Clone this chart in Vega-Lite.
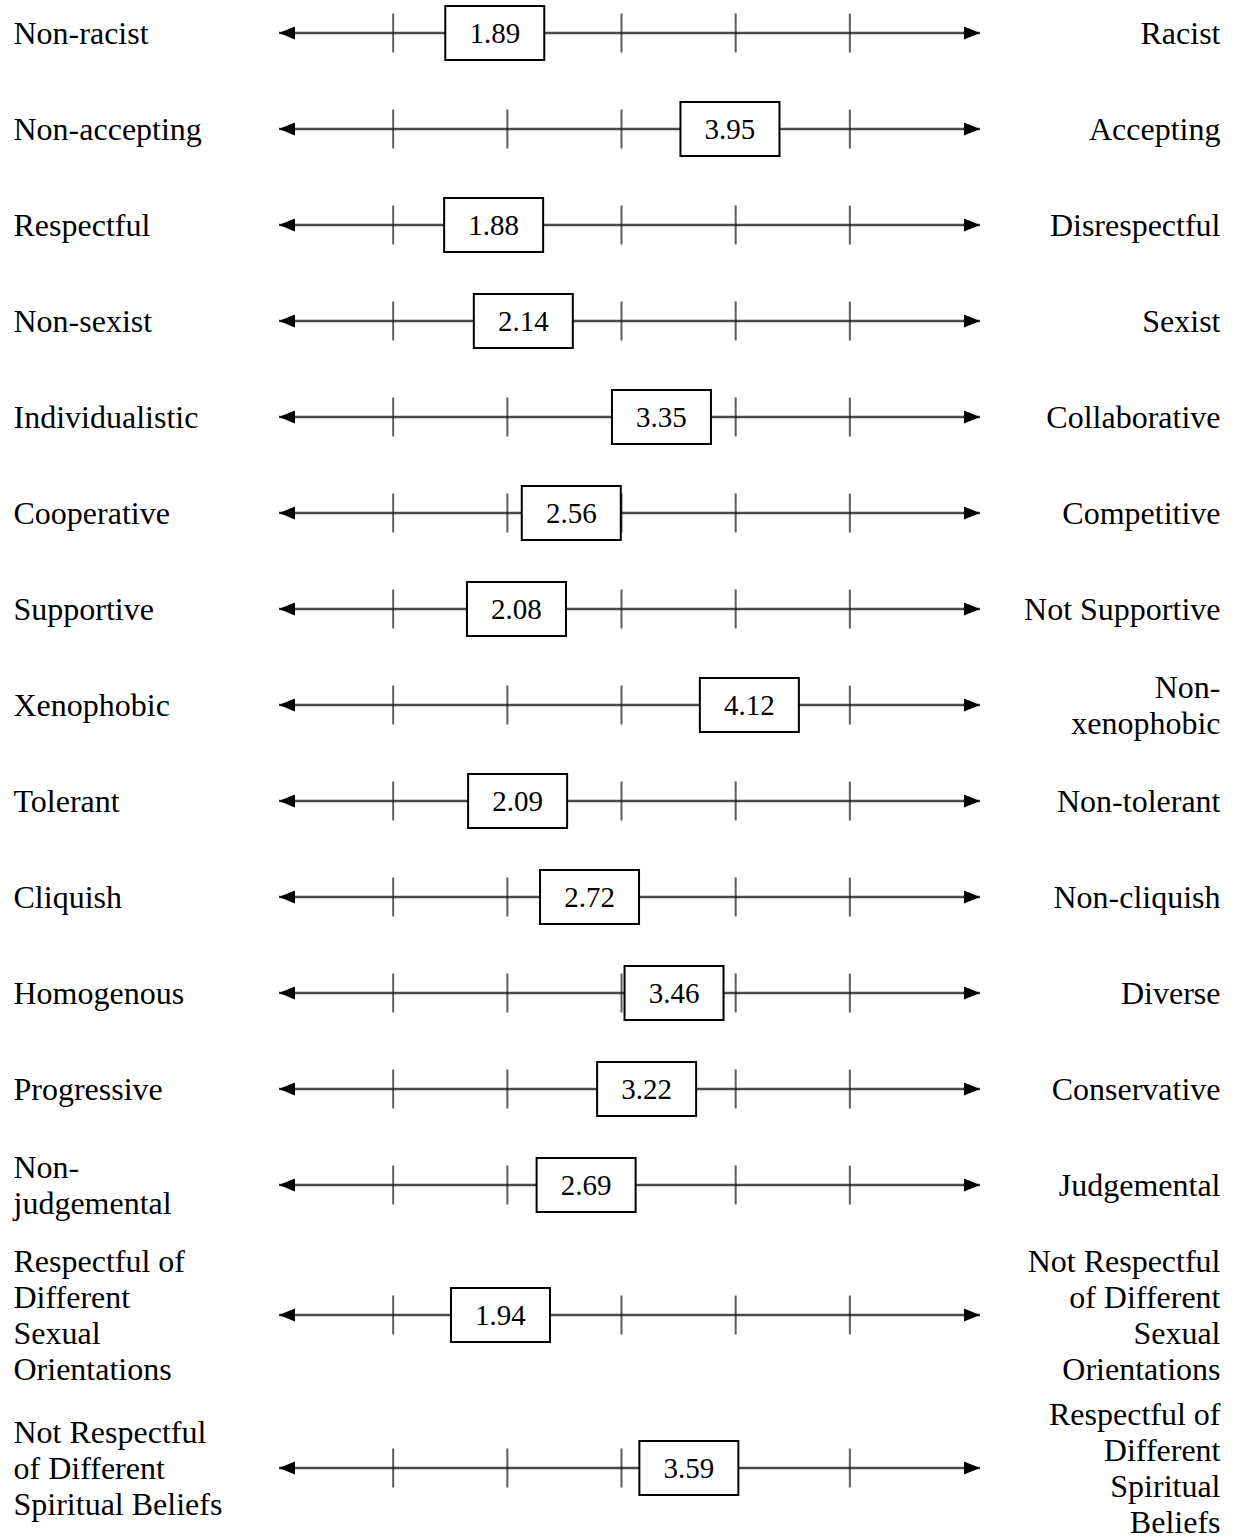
{
  "$schema": "https://vega.github.io/schema/vega-lite/v6.json",
  "background": "white",
  "padding": {"left": 13, "top": 0, "right": 16, "bottom": 0},
  "autosize": {"type": "pad"},
  "config": {"view": {"stroke": null}, "font": "Liberation Serif"},
  "datasets": {
    "main": [
      {"left": "Non-racist", "right": "Racist", "value": 1.89, "ticks": [1, 2, 3, 4, 5]},
      {"left": "Non-accepting", "right": "Accepting", "value": 3.95, "ticks": [1, 2, 3, 4, 5]},
      {"left": "Respectful", "right": "Disrespectful", "value": 1.88, "ticks": [1, 2, 3, 4, 5]},
      {"left": "Non-sexist", "right": "Sexist", "value": 2.14, "ticks": [1, 2, 3, 4, 5]},
      {"left": "Individualistic", "right": "Collaborative", "value": 3.35, "ticks": [1, 2, 3, 4, 5]},
      {"left": "Cooperative", "right": "Competitive", "value": 2.56, "ticks": [1, 2, 3, 4, 5]},
      {"left": "Supportive", "right": "Not Supportive", "value": 2.08, "ticks": [1, 2, 3, 4, 5]},
      {"left": "Xenophobic", "right": "Non-|xenophobic", "value": 4.12, "ticks": [1, 2, 3, 4, 5]},
      {"left": "Tolerant", "right": "Non-tolerant", "value": 2.09, "ticks": [1, 2, 3, 4, 5]},
      {"left": "Cliquish", "right": "Non-cliquish", "value": 2.72, "ticks": [1, 2, 3, 4, 5]},
      {"left": "Homogenous", "right": "Diverse", "value": 3.46, "ticks": [1, 2, 3, 4, 5]},
      {"left": "Progressive", "right": "Conservative", "value": 3.22, "ticks": [1, 2, 3, 4, 5]},
      {"left": "Non-|judgemental", "right": "Judgemental", "value": 2.69, "ticks": [1, 2, 3, 4, 5]}
    ],
    "long": [
      {"left": "Respectful of|Different|Sexual|Orientations", "right": "Not Respectful|of Different|Sexual|Orientations", "value": 1.94, "ticks": [1, 2, 3, 4, 5]},
      {"left": "Not Respectful|of Different|Spiritual Beliefs", "right": "Respectful of|Different|Spiritual|Beliefs", "value": 3.59, "ticks": [1, 2, 3, 4, 5]}
    ]
  },
  "spacing": 0,
  "bounds": "flush",
  "vconcat": [
    {
      "width": 701,
      "height": 1218,
      "data": {"name": "main"},
      "layer": [
        {
          "encoding": {
            "y": {"field": "left", "type": "nominal", "sort": null,
              "scale": {"type": "point", "range": [33, 1185], "padding": 0},
              "axis": {"orient": "left", "title": null, "domain": false, "ticks": false, "tickSize": 0, "labelPadding": 266, "labelAlign": "left", "labelBaseline": "middle", "labelFont": "Liberation Serif", "labelFontSize": 32, "labelColor": "black", "labelLimit": 0, "labelLineHeight": 36, "labelExpr": "split(datum.value, '|')", "labelOffset": {"expr": "-(length(split(datum.value, '|')) - 1) * 18"}}}
          },
          "layer": [
            {"mark": {"type": "rule", "color": "#4a4a4a", "strokeWidth": 2.5},
             "encoding": {"x": {"datum": 0, "type": "quantitative", "scale": {"domain": [0, 6.14], "nice": false, "zero": false}, "axis": null}, "x2": {"datum": 6.14}}},
            {"transform": [{"flatten": ["ticks"]}],
             "mark": {"type": "tick", "color": "#1a1a1a", "thickness": 2, "size": 39},
             "encoding": {"x": {"field": "ticks", "type": "quantitative", "scale": {"domain": [0, 6.14], "nice": false, "zero": false}, "axis": null}}},
            {"mark": {"type": "point", "shape": "M0,0 L1,-0.4 L1,0.4 Z", "size": 1024, "filled": true, "color": "black", "opacity": 1},
             "encoding": {"x": {"datum": 0, "type": "quantitative", "scale": {"domain": [0, 6.14], "nice": false, "zero": false}, "axis": null}}},
            {"mark": {"type": "point", "shape": "M0,0 L-1,-0.4 L-1,0.4 Z", "size": 1024, "filled": true, "color": "black", "opacity": 1},
             "encoding": {"x": {"datum": 6.14, "type": "quantitative", "scale": {"domain": [0, 6.14], "nice": false, "zero": false}, "axis": null}}},
            {"mark": {"type": "point", "shape": "M-1,-0.545 L1,-0.545 L1,0.545 L-1,0.545 Z", "size": 9801, "fill": "white", "fillOpacity": 1, "stroke": "black", "strokeWidth": 2, "opacity": 1},
             "encoding": {"x": {"field": "value", "type": "quantitative", "scale": {"domain": [0, 6.14], "nice": false, "zero": false}, "axis": null}}},
            {"mark": {"type": "text", "font": "Liberation Serif", "fontSize": 29, "color": "black", "align": "center", "baseline": "middle", "dy": 1},
             "encoding": {"x": {"field": "value", "type": "quantitative", "scale": {"domain": [0, 6.14], "nice": false, "zero": false}, "axis": null}, "text": {"field": "value", "type": "quantitative", "format": ".2f"}}}
          ]
        },
        {
          "mark": {"type": "point", "opacity": 0},
          "encoding": {
            "x": {"datum": 0, "type": "quantitative", "scale": {"domain": [0, 6.14], "nice": false, "zero": false}, "axis": null},
            "y": {"field": "right", "type": "nominal", "sort": null,
              "scale": {"type": "point", "range": [33, 1185], "padding": 0},
              "axis": {"orient": "right", "title": null, "domain": false, "ticks": false, "tickSize": 0, "labelPadding": 240, "labelAlign": "right", "labelBaseline": "middle", "labelFont": "Liberation Serif", "labelFontSize": 32, "labelColor": "black", "labelLimit": 0, "labelLineHeight": 36, "labelExpr": "split(datum.value, '|')", "labelOffset": {"expr": "-(length(split(datum.value, '|')) - 1) * 18"}}}
          }
        }
      ],
      "resolve": {"scale": {"y": "independent"}, "axis": {"y": "independent"}}
    },
    {
      "width": 701,
      "height": 319,
      "data": {"name": "long"},
      "layer": [
        {
          "encoding": {
            "y": {"field": "left", "type": "nominal", "sort": null,
              "scale": {"type": "point", "range": [97, 250], "padding": 0},
              "axis": {"orient": "left", "title": null, "domain": false, "ticks": false, "tickSize": 0, "labelPadding": 266, "labelAlign": "left", "labelBaseline": "middle", "labelFont": "Liberation Serif", "labelFontSize": 32, "labelColor": "black", "labelLimit": 0, "labelLineHeight": 36, "labelExpr": "split(datum.value, '|')", "labelOffset": {"expr": "-(length(split(datum.value, '|')) - 1) * 18"}}}
          },
          "layer": [
            {"mark": {"type": "rule", "color": "#4a4a4a", "strokeWidth": 2.5},
             "encoding": {"x": {"datum": 0, "type": "quantitative", "scale": {"domain": [0, 6.14], "nice": false, "zero": false}, "axis": null}, "x2": {"datum": 6.14}}},
            {"transform": [{"flatten": ["ticks"]}],
             "mark": {"type": "tick", "color": "#1a1a1a", "thickness": 2, "size": 39},
             "encoding": {"x": {"field": "ticks", "type": "quantitative", "scale": {"domain": [0, 6.14], "nice": false, "zero": false}, "axis": null}}},
            {"mark": {"type": "point", "shape": "M0,0 L1,-0.4 L1,0.4 Z", "size": 1024, "filled": true, "color": "black", "opacity": 1},
             "encoding": {"x": {"datum": 0, "type": "quantitative", "scale": {"domain": [0, 6.14], "nice": false, "zero": false}, "axis": null}}},
            {"mark": {"type": "point", "shape": "M0,0 L-1,-0.4 L-1,0.4 Z", "size": 1024, "filled": true, "color": "black", "opacity": 1},
             "encoding": {"x": {"datum": 6.14, "type": "quantitative", "scale": {"domain": [0, 6.14], "nice": false, "zero": false}, "axis": null}}},
            {"mark": {"type": "point", "shape": "M-1,-0.545 L1,-0.545 L1,0.545 L-1,0.545 Z", "size": 9801, "fill": "white", "fillOpacity": 1, "stroke": "black", "strokeWidth": 2, "opacity": 1},
             "encoding": {"x": {"field": "value", "type": "quantitative", "scale": {"domain": [0, 6.14], "nice": false, "zero": false}, "axis": null}}},
            {"mark": {"type": "text", "font": "Liberation Serif", "fontSize": 29, "color": "black", "align": "center", "baseline": "middle", "dy": 1},
             "encoding": {"x": {"field": "value", "type": "quantitative", "scale": {"domain": [0, 6.14], "nice": false, "zero": false}, "axis": null}, "text": {"field": "value", "type": "quantitative", "format": ".2f"}}}
          ]
        },
        {
          "mark": {"type": "point", "opacity": 0},
          "encoding": {
            "x": {"datum": 0, "type": "quantitative", "scale": {"domain": [0, 6.14], "nice": false, "zero": false}, "axis": null},
            "y": {"field": "right", "type": "nominal", "sort": null,
              "scale": {"type": "point", "range": [97, 250], "padding": 0},
              "axis": {"orient": "right", "title": null, "domain": false, "ticks": false, "tickSize": 0, "labelPadding": 240, "labelAlign": "right", "labelBaseline": "middle", "labelFont": "Liberation Serif", "labelFontSize": 32, "labelColor": "black", "labelLimit": 0, "labelLineHeight": 36, "labelExpr": "split(datum.value, '|')", "labelOffset": {"expr": "-(length(split(datum.value, '|')) - 1) * 18"}}}
          }
        }
      ],
      "resolve": {"scale": {"y": "independent"}, "axis": {"y": "independent"}}
    }
  ]
}
